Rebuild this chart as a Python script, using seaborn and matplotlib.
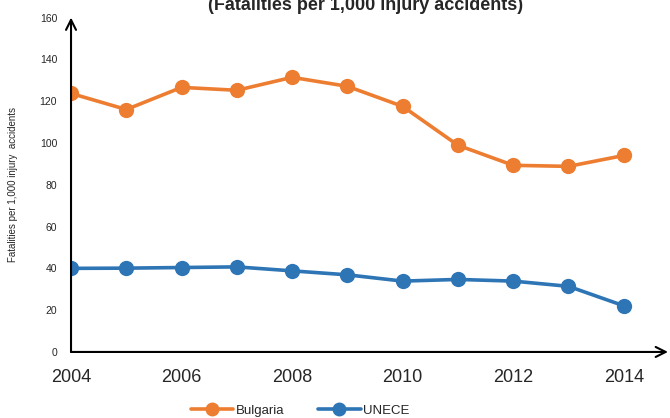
import pandas as pd
import numpy as np
import matplotlib.pyplot as plt
import seaborn as sns

# ---------------Data------------------
years = [2004, 2005, 2006, 2007, 2008, 2009, 2010, 2011, 2012, 2013, 2014]
bulgaria = [123.7, 116.0, 126.6, 125.2, 131.4, 127.1, 117.5, 98.9, 89.3, 88.8, 94.0]
unece = [40.0, 40.1, 40.4, 40.7, 38.8, 36.9, 33.9, 34.7, 33.9, 31.4, 22.1]
x_ticks = [2004, 2006, 2008, 2010, 2012, 2014]
y_ticks = [0, 20, 40, 60, 80, 100, 120, 140, 160]

df = pd.DataFrame({'Year': years * 2,
                   'Value': bulgaria + unece,
                   'Series': ['Bulgaria'] * len(years) + ['UNECE'] * len(years)})

sns.set_style('white')
plt.rcParams['font.family'] = ['Liberation Sans', 'DejaVu Sans']

colores = {'Bulgaria': '#ED7D31', 'UNECE': '#2E75B6'}

fig = plt.figure(figsize=(6.7, 4.18), dpi=100)
ax = fig.add_axes([0.106, 0.158, 0.891, 0.800])

sns.lineplot(data=df, x='Year', y='Value', hue='Series', palette=colores,
             marker='o', markersize=11, markeredgewidth=0, linewidth=2.6,
             ax=ax, legend=False)

ax.set_xlim(2004, 2014.8)
ax.set_ylim(0, 160)
ax.set_xticks(x_ticks)
ax.set_yticks(y_ticks)
ax.tick_params(axis='x', labelsize=13, length=0, pad=12)
ax.tick_params(axis='y', labelsize=7.5, length=0, pad=10)
ax.set_xlabel('')
ax.set_ylabel('Fatalities per 1,000 injury  accidents', fontsize=7)
ax.yaxis.set_label_coords(-0.088, 0.5)

for s in ['top', 'right', 'left', 'bottom']:
    ax.spines[s].set_visible(False)

# axis arrows
ax.annotate('', xy=(0, 1.0), xytext=(0, 0), xycoords='axes fraction',
            arrowprops=dict(arrowstyle='->', lw=1.5, color='black', mutation_scale=18,
                            shrinkA=0, shrinkB=0))
ax.annotate('', xy=(1.0, 0), xytext=(0, 0), xycoords='axes fraction',
            arrowprops=dict(arrowstyle='->', lw=1.5, color='black', mutation_scale=18,
                            shrinkA=0, shrinkB=0))

fig.text(0.545, 0.988, '(Fatalities per 1,000 injury accidents)', ha='center', va='center',
         fontsize=13, fontweight='bold')

handles = [plt.Line2D([], [], color=colores[k], marker='o', markersize=9, linewidth=2.6)
           for k in ['Bulgaria', 'UNECE']]
fig.legend(handles, ['Bulgaria', 'UNECE'], loc='center', bbox_to_anchor=(0.448, 0.018),
           ncol=2, frameon=False, fontsize=9.5, handlelength=3.2, columnspacing=2.6,
           handletextpad=0.2)

plt.savefig('out.png', dpi=100)
